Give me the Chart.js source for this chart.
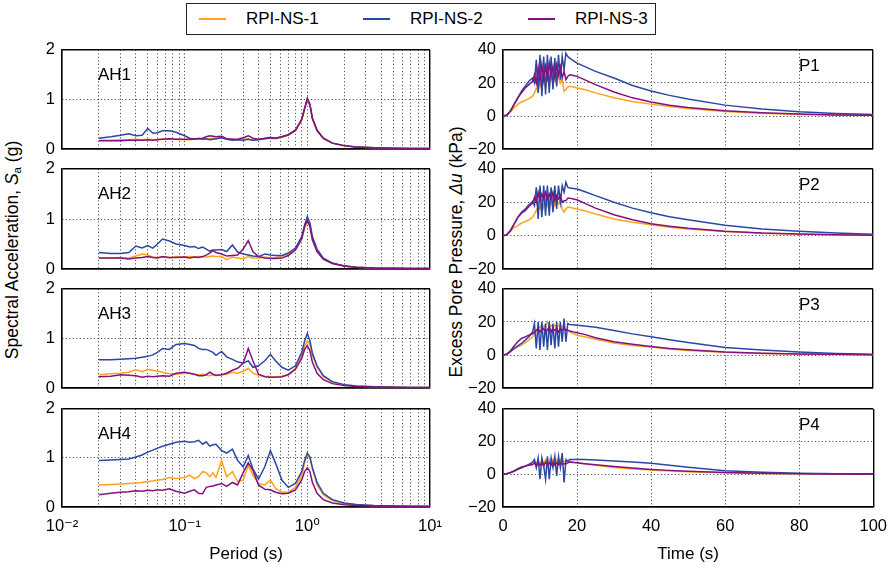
<!DOCTYPE html>
<html><head><meta charset="utf-8">
<script src="https://cdn.jsdelivr.net/npm/chart.js@4.4.0/dist/chart.umd.min.js"></script>
<style>
html,body{margin:0;padding:0;background:#fff;}
body{width:893px;height:569px;position:relative;overflow:hidden;font-family:"Liberation Sans","DejaVu Sans",Arial,sans-serif;color:#000;}
canvas{position:absolute;}
.lbl{position:absolute;font-size:17px;line-height:1;white-space:nowrap;transform:translateY(-50%);}
.ytitle{position:absolute;font-size:17.5px;line-height:1;white-space:nowrap;transform:translate(-50%,-50%) rotate(-90deg);}
.ytitle sub{font-size:11.5px;vertical-align:-3px;font-style:normal;}
#legend{position:absolute;left:186px;top:3px;width:470px;height:32px;border:1px solid #222;box-sizing:border-box;}
.item{position:absolute;top:0;height:100%;display:flex;align-items:center;font-size:17px;}
.swatch{display:inline-block;width:27px;height:2px;margin-right:20px;}
</style></head><body>
<div id="legend">
  <div class="item" style="left:12px"><span class="swatch" style="background:#FFA31A"></span>RPI-NS-1</div>
  <div class="item" style="left:176px"><span class="swatch" style="background:#2B47A6"></span>RPI-NS-2</div>
  <div class="item" style="left:341px"><span class="swatch" style="background:#84117F"></span>RPI-NS-3</div>
</div>
<div class="ytitle" style="left:14px;top:250px">Spectral Acceleration, <i>S</i><sub>a</sub> (g)</div>
<div class="ytitle" style="left:457px;top:252px">Excess Pore Pressure, <i>Δu</i> (kPa)</div>
<script>
// ---------- Spectral acceleration (left column) ----------
const periods = [0.02, 0.025, 0.03, 0.035, 0.04, 0.045, 0.05, 0.055, 0.06, 0.066, 0.075, 0.085, 0.1, 0.11, 0.12, 0.13, 0.14, 0.15, 0.16, 0.17, 0.18, 0.2, 0.22, 0.245, 0.27, 0.3, 0.33, 0.36, 0.4, 0.45, 0.5, 0.55, 0.62, 0.7, 0.8, 0.9, 0.95, 1.0, 1.05, 1.1, 1.2, 1.35, 1.6, 2.0, 2.5, 3.5, 5, 7, 10];

const ah1Ns1 = [0.18,0.18,0.19,0.19,0.2,0.19,0.2,0.19,0.2,0.2,0.21,0.2,0.19,0.19,0.2,0.2,0.21,0.2,0.21,0.22,0.21,0.24,0.21,0.2,0.19,0.21,0.2,0.18,0.2,0.21,0.22,0.21,0.24,0.28,0.37,0.58,0.8,1.0,0.88,0.6,0.37,0.21,0.12,0.06,0.04,0.025,0.018,0.013,0.01];
const ah1Ns2 = [0.22,0.25,0.28,0.31,0.27,0.28,0.42,0.32,0.33,0.37,0.37,0.34,0.27,0.22,0.2,0.22,0.2,0.21,0.19,0.2,0.21,0.23,0.2,0.18,0.19,0.18,0.2,0.18,0.19,0.22,0.24,0.22,0.25,0.29,0.38,0.6,0.82,1.02,0.9,0.62,0.38,0.22,0.12,0.07,0.04,0.025,0.018,0.013,0.01];
const ah1Ns3 = [0.17,0.17,0.17,0.18,0.18,0.18,0.19,0.18,0.19,0.2,0.21,0.2,0.2,0.2,0.21,0.21,0.22,0.25,0.27,0.26,0.25,0.26,0.21,0.2,0.2,0.23,0.27,0.22,0.2,0.21,0.23,0.22,0.25,0.29,0.38,0.6,0.82,1.02,0.9,0.62,0.38,0.22,0.12,0.07,0.04,0.025,0.018,0.013,0.01];

const ah2Ns1 = [0.22,0.22,0.23,0.22,0.26,0.3,0.28,0.24,0.23,0.24,0.22,0.25,0.24,0.25,0.24,0.25,0.24,0.24,0.25,0.26,0.25,0.25,0.19,0.24,0.22,0.2,0.25,0.22,0.22,0.24,0.22,0.23,0.26,0.3,0.4,0.6,0.82,0.95,0.85,0.6,0.37,0.2,0.11,0.06,0.035,0.02,0.015,0.012,0.01];
const ah2Ns2 = [0.33,0.31,0.31,0.33,0.46,0.42,0.47,0.42,0.5,0.6,0.56,0.5,0.47,0.44,0.45,0.41,0.44,0.4,0.36,0.38,0.38,0.39,0.35,0.48,0.34,0.3,0.28,0.26,0.25,0.3,0.28,0.27,0.27,0.32,0.42,0.65,0.88,1.05,0.92,0.65,0.4,0.22,0.12,0.06,0.035,0.02,0.015,0.012,0.01];
const ah2Ns3 = [0.22,0.22,0.22,0.2,0.22,0.23,0.25,0.23,0.22,0.25,0.23,0.23,0.24,0.22,0.24,0.23,0.25,0.28,0.32,0.37,0.33,0.3,0.26,0.27,0.28,0.4,0.57,0.35,0.25,0.22,0.21,0.21,0.22,0.27,0.38,0.6,0.85,0.97,0.85,0.58,0.35,0.2,0.11,0.06,0.035,0.02,0.015,0.012,0.01];

const ah3Ns1 = [0.27,0.29,0.3,0.32,0.37,0.33,0.38,0.36,0.34,0.32,0.29,0.28,0.3,0.3,0.28,0.27,0.28,0.26,0.25,0.27,0.25,0.27,0.28,0.32,0.3,0.34,0.4,0.3,0.26,0.24,0.23,0.23,0.24,0.28,0.4,0.65,0.85,0.95,0.88,0.66,0.42,0.23,0.12,0.065,0.04,0.025,0.017,0.013,0.01];
const ah3Ns2 = [0.57,0.57,0.58,0.59,0.6,0.62,0.64,0.67,0.72,0.8,0.78,0.88,0.9,0.88,0.86,0.8,0.78,0.78,0.75,0.72,0.66,0.74,0.63,0.58,0.53,0.5,0.55,0.42,0.45,0.55,0.68,0.55,0.42,0.36,0.45,0.72,0.95,1.1,0.95,0.7,0.45,0.25,0.13,0.07,0.04,0.025,0.017,0.013,0.01];
const ah3Ns3 = [0.23,0.24,0.27,0.26,0.25,0.22,0.24,0.23,0.24,0.25,0.24,0.3,0.32,0.3,0.28,0.25,0.25,0.27,0.32,0.28,0.26,0.27,0.3,0.36,0.4,0.5,0.8,0.55,0.28,0.23,0.22,0.22,0.23,0.27,0.38,0.6,0.78,0.86,0.75,0.52,0.3,0.17,0.09,0.05,0.03,0.02,0.015,0.012,0.01];

const ah4Ns1 = [0.45,0.46,0.47,0.48,0.49,0.5,0.52,0.53,0.55,0.56,0.6,0.58,0.6,0.65,0.58,0.62,0.72,0.7,0.62,0.7,0.6,0.95,0.62,0.72,0.52,0.55,0.85,0.65,0.48,0.45,0.55,0.38,0.3,0.3,0.4,0.65,0.9,1.06,1.0,0.78,0.45,0.25,0.13,0.07,0.045,0.028,0.02,0.016,0.014];
const ah4Ns2 = [0.95,0.96,0.97,0.98,1.02,1.06,1.12,1.16,1.2,1.24,1.28,1.32,1.34,1.32,1.33,1.36,1.28,1.33,1.24,1.27,1.28,1.15,1.1,1.18,0.95,0.82,1.05,0.78,0.57,0.82,1.15,0.9,0.55,0.4,0.48,0.72,0.95,1.1,1.02,0.8,0.5,0.28,0.15,0.08,0.05,0.03,0.022,0.017,0.015];
const ah4Ns3 = [0.25,0.28,0.3,0.31,0.33,0.32,0.34,0.33,0.35,0.34,0.37,0.32,0.28,0.32,0.35,0.28,0.27,0.4,0.42,0.43,0.45,0.48,0.42,0.5,0.45,0.7,0.9,0.75,0.45,0.36,0.35,0.3,0.27,0.28,0.35,0.55,0.72,0.8,0.72,0.5,0.28,0.15,0.08,0.045,0.03,0.02,0.015,0.012,0.01];

// ---------- Excess pore pressure (right column) ----------
const times = [0,1,2,3,4,5,6,7,8,8.5,9,9.5,10,10.5,11,11.5,12,12.5,13,13.5,14,14.5,15,15.5,16,16.5,17,17.5,18,19,20,22,25,30,35,40,45,50,60,70,80,90,100];

const p1Ns1 = [0,0.5,2.5,5,7,8.5,9.5,10.5,12, 14,17,15,20,16,23,17,24,18,24,19,25,19,24,20,22,15,16,17.5, 18,17.5,17,16,14,11,8.8,7.2,5.7,4.5,2.8,1.7,1,0.6,0.3];
const p1Ns2 = [0,0.5,3,7,11,15,18,21,23, 20,34,14,37,12,36,13,37,14,36,16,35,18,37,22,36,28,38,36, 35,33.5,32,30,27,23,18.5,15.2,12.5,10.3,6.6,4.2,2.6,1.6,1];
const p1Ns3 = [0,0.5,3,7,11,14,17,19,21, 25,20,29,21,31,22,30,23,32,24,30,23,31,25,30,23,27,22,24, 25,24.5,24,22,19,14.5,11,8.5,6.5,5.2,3.2,2,1.2,0.7,0.4];

const p2Ns1 = [0,0.5,2.5,5,6,7.5,8.5,9.5,11, 13,15,17,16,21,17,23,18,22,19,22,18,21,19,21,16,14,16,17, 17,16.5,16,15,13,10,8,6.5,5.1,4,2.5,1.5,0.9,0.5,0.3];
const p2Ns2 = [0,0.5,3,7,11,14,16,18.5,20.5, 18,29,10,30,11,30,12,30,12,29,14,30,16,30,20,30,26,32,29, 28.5,28.3,28,26.5,24,20,16.5,13.7,11.3,9.5,6.2,4,2.6,1.6,0.9];
const p2Ns3 = [0,0.5,3,7,11,13.5,15,17.5,19.5, 23,20,26,21,25,22,26,22,25,22,26,21,24,22,24,20,21,21,22.5, 22.5,22,21.5,19.5,16.5,12.5,9.5,7.2,5.6,4.4,2.7,1.6,1,0.6,0.3];

const p3Ns1 = [0,0.5,2,3.5,5,6,7.5,9,11, 13,15,16,17,18,17,18,20,17,18,17,18,17,18,17,17.5,16,15.5,15, 14,13,12,11,9.5,7.3,5.8,4.8,3.6,2.8,1.7,1,0.6,0.3,0.2];
const p3Ns2 = [0,0.5,2,4,5.5,7,9,11,14, 19,4,20,3,20,5,19,3,20,6,19,4,20,5,20,8,22,8,19, 18.5,18.3,18,17.5,16.8,14.8,12.8,11,9.2,7.6,4.6,3,1.8,1,0.5];
const p3Ns3 = [0,0.5,2.5,5.5,8,10,11,12,13, 14,15,16,14,15,16,14,15,17,14,16,15,16,14,16,15,16,15,15, 14.5,14,13.5,12.5,10.5,8,6.5,5.2,4,3.2,1.9,1.1,0.7,0.4,0.2];

const p4Ns1 = [0,0.3,1,2,3,4,5,6,7, 8,6,8.5,6,9,6,9,6.5,9,6.5,9,6.5,9,7,9,7,8,8,8, 8,7.5,7,6.5,5.5,4.2,3.3,2.6,2,1.6,0.9,0.5,0.3,0.2,0.1];
const p4Ns2 = [0,0.3,1,2,3,4,5,6,7.5, 9,4,10,-3,10,5,-3,11,-3,10,4,11,-1,11,4,13,-5,9,8, 9,9,9,9,8.8,8.2,7.5,6.7,5.5,4.3,2.2,1.2,0.6,0.4,0.3];
const p4Ns3 = [0,0.3,1,2,3.5,4.5,5,5.5,6, 7,5,7,5.5,7,5,7.5,5.5,7,5.5,7,5.5,7,6,7,6,6.5,6.5,7, 7.5,7.2,7,6.5,5.8,4.8,3.8,3,2.4,1.9,1.1,0.6,0.3,0.2,0.1];

// ---------- Ticks / labels ----------
const periodGrid = [0.01,0.02,0.03,0.04,0.05,0.06,0.07,0.08,0.09,0.1,0.2,0.3,0.4,0.5,0.6,0.7,0.8,0.9,1,2,3,4,5,6,7,8,9,10];
const decadeValues = [0.01, 0.1, 1, 10];
const decadeLabels = ['10\u207B\u00B2', '10\u207B\u00B9', '10\u2070', '10\u00B9'];
const timeTicks = [0, 20, 40, 60, 80, 100];
const saTicks = [0, 1, 2];
const duTicks = [-20, 0, 20, 40];
const seriesNames = ['RPI-NS-1', 'RPI-NS-2', 'RPI-NS-3'];
const leftLabels = ['AH1', 'AH2', 'AH3', 'AH4'];
const rightLabels = ['P1', 'P2', 'P3', 'P4'];

const leftSeries = [[ah1Ns1, ah1Ns2, ah1Ns3], [ah2Ns1, ah2Ns2, ah2Ns3], [ah3Ns1, ah3Ns2, ah3Ns3], [ah4Ns1, ah4Ns2, ah4Ns3]];
const rightSeries = [[p1Ns1, p1Ns2, p1Ns3], [p2Ns1, p2Ns2, p2Ns3], [p3Ns1, p3Ns2, p3Ns3], [p4Ns1, p4Ns2, p4Ns3]];

// ---------- Styling / layout ----------
const COLORS = ['#FFA31A', '#2B47A6', '#84117F'];
const ORDERS = [2, 1, 0];
const FONT = "'Liberation Sans', 'DejaVu Sans', Arial, sans-serif";
Chart.defaults.font.family = FONT;
Chart.defaults.font.size = 16.5;
Chart.defaults.color = '#000';

const rowTops = [50, 169, 289, 409];
const rowBottoms = [149, 269, 388, 507];
const colLefts = [62, 503];
const colRights = [430, 873];
const PAD = 14, XH = 62;

function nearly(a, b, log) {
  if (log) return Math.abs(Math.log10(a) - Math.log10(b)) < 1e-6;
  return Math.abs(a - b) < 1e-9;
}

function buildConfig(col, row, yW, padR, padB) {
  const isLeft = col === 0;
  const isBottom = row === 3;
  const xs = isLeft ? periods : times;
  const series = isLeft ? leftSeries[row] : rightSeries[row];
  const xMin = isLeft ? 0.01 : 0, xMax = isLeft ? 10 : 100;
  const yMin = isLeft ? 0 : -20, yMax = isLeft ? 2 : 40;
  const xTickVals = isLeft ? periodGrid : timeTicks;
  const yTickVals = isLeft ? saTicks : duTicks;
  const edgeX = c => !!(c.tick && (nearly(c.tick.value, xMin, isLeft) || nearly(c.tick.value, xMax, isLeft)));
  const edgeY = c => !!(c.tick && (nearly(c.tick.value, yMin, false) || nearly(c.tick.value, yMax, false)));

  const datasets = series.map((arr, k) => ({
    label: seriesNames[k],
    data: xs.map((x, i) => ({ x: x, y: arr[i] })),
    borderColor: COLORS[k],
    backgroundColor: COLORS[k],
    borderWidth: 1.5,
    pointRadius: 0,
    tension: 0,
    fill: false,
    order: ORDERS[k]
  }));

  return {
    type: 'line',
    data: { datasets },
    options: {
      responsive: false,
      maintainAspectRatio: false,
      animation: false,
      devicePixelRatio: 1,
      layout: { padding: { left: 0, right: padR, top: PAD, bottom: padB } },
      plugins: { legend: { display: false }, tooltip: { enabled: false } },
      scales: {
        x: {
          type: isLeft ? 'logarithmic' : 'linear',
          min: xMin, max: xMax,
          afterBuildTicks: s => { s.ticks = xTickVals.map(v => ({ value: v })); },
          afterFit: s => { s.height = isBottom ? XH : 0; },
          ticks: {
            display: isBottom, autoSkip: false, maxRotation: 0, minRotation: 0, padding: 10,
            color: '#000', font: { size: 16.5 },
            callback: (v) => {
              if (!isLeft) return String(v);
              const i = decadeValues.findIndex(d => nearly(d, v, true));
              return i >= 0 ? decadeLabels[i] : '';
            }
          },
          grid: {
            drawTicks: false, color: '#000',
            lineWidth: c => edgeX(c) ? 1.4 : 0.8
          },
          border: { display: true, color: '#000', width: 1.4, dash: c => edgeX(c) ? [] : [1, 2.5] },
          title: {
            display: isBottom, text: isLeft ? 'Period (s)' : 'Time (s)',
            color: '#000', font: { size: 17 }, padding: { top: 0, bottom: 4 }
          }
        },
        y: {
          type: 'linear',
          min: yMin, max: yMax,
          afterBuildTicks: s => { s.ticks = yTickVals.map(v => ({ value: v })); },
          afterFit: s => { s.width = yW; },
          ticks: {
            padding: 7, color: '#000', font: { size: 16.5 },
            callback: v => v < 0 ? '\u2212' + Math.abs(v) : String(v)
          },
          grid: {
            drawTicks: false, color: '#000',
            lineWidth: c => edgeY(c) ? 1.4 : 0.8
          },
          border: { display: true, color: '#000', width: 1.4, dash: c => edgeY(c) ? [] : [1, 2.5] }
        }
      }
    }
  };
}

function makePanel(col, row) {
  const isLeft = col === 0;
  const isBottom = row === 3;
  let cLeft = isLeft ? 0 : 440;
  let cW = isLeft ? 460 : 453;
  let yW = colLefts[col] - cLeft;
  const padR = isLeft ? 30 : 20;
  const padB = isBottom ? 0 : PAD;
  let cTop = rowTops[row] - PAD;
  let cH = PAD + (rowBottoms[row] - rowTops[row]) + (isBottom ? XH : PAD);
  const cv = document.createElement('canvas');
  document.body.appendChild(cv);
  let chart = null;
  for (let it = 0; it < 3; it++) {
    if (chart) chart.destroy();
    cv.width = cW; cv.height = cH;
    cv.style.left = cLeft + 'px'; cv.style.top = cTop + 'px';
    cv.style.width = cW + 'px'; cv.style.height = cH + 'px';
    chart = new Chart(cv, buildConfig(col, row, yW, padR, padB));
    const a = chart.chartArea;
    const dTop = Math.round(rowTops[row] - (cTop + a.top));
    const dBottom = Math.round(rowBottoms[row] - (cTop + a.bottom));
    const dLeft = Math.round(colLefts[col] - (cLeft + a.left));
    const dRight = Math.round(colRights[col] - (cLeft + a.right));
    if (!dTop && !dBottom && !dLeft && !dRight) break;
    cTop += dTop;
    cH += dBottom - dTop;
    yW += dLeft;
    cW += dRight;
  }

  // panel label positioned through the chart's own scales
  const lab = document.createElement('div');
  lab.className = 'lbl';
  lab.textContent = isLeft ? leftLabels[row] : rightLabels[row];
  const lx = isLeft ? 0.0198 : 80;
  const ly = isLeft ? 1.51 : 31;
  lab.style.left = Math.round(cLeft + chart.scales.x.getPixelForValue(lx)) + 'px';
  lab.style.top = Math.round(cTop + chart.scales.y.getPixelForValue(ly)) + 'px';
  document.body.appendChild(lab);
}

for (let r = 0; r < 4; r++) { makePanel(0, r); makePanel(1, r); }
</script>
</body></html>
